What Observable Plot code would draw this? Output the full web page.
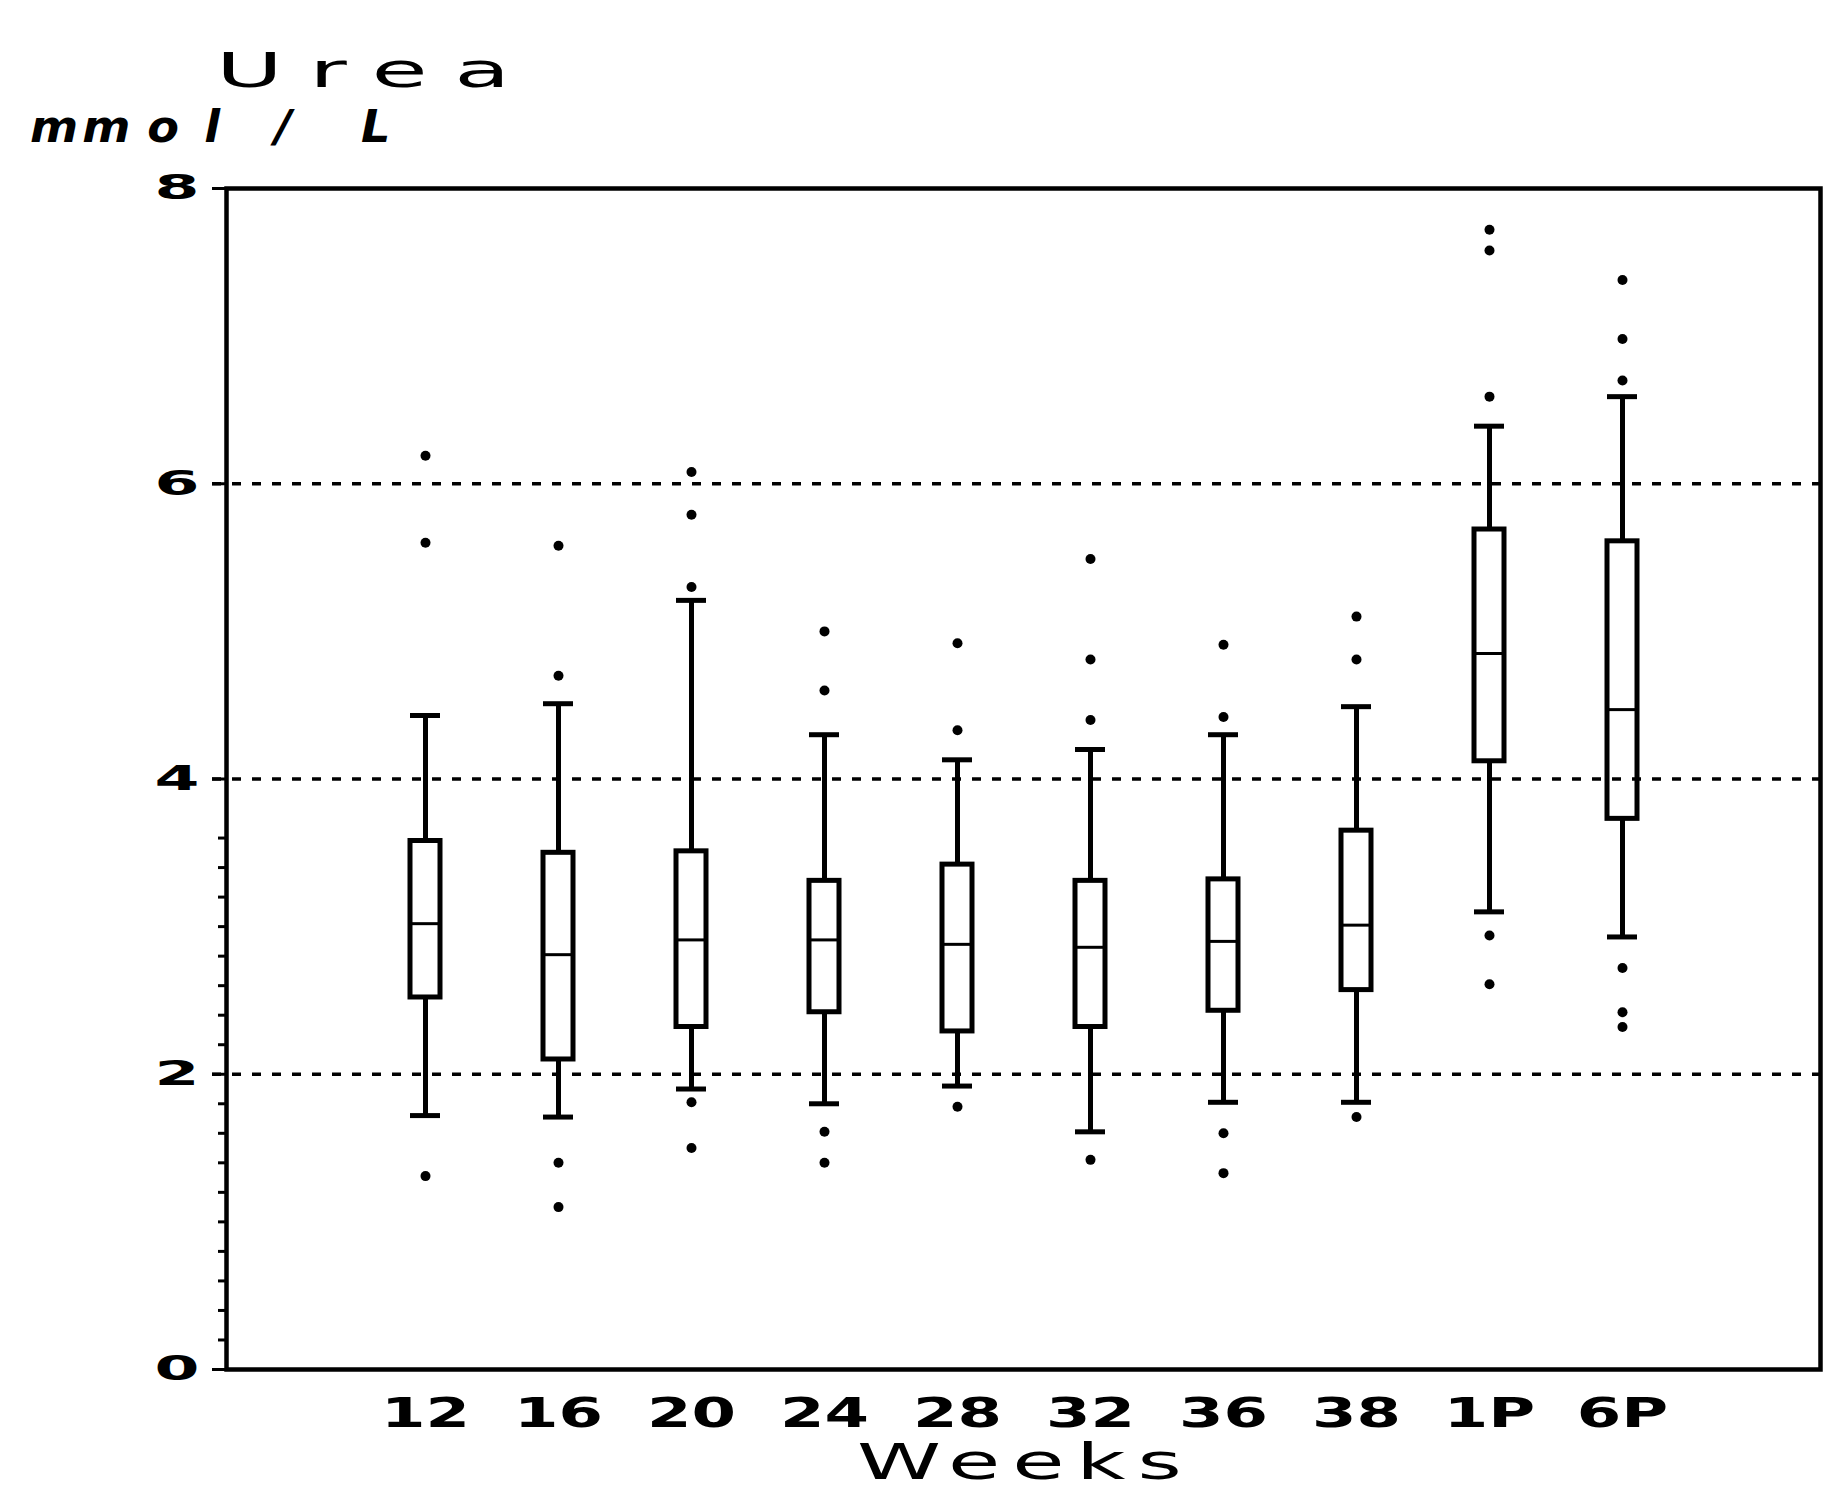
<!DOCTYPE html>
<html>
<head>
<meta charset="utf-8">
<script src="https://cdn.jsdelivr.net/npm/d3@7"></script>
<script src="https://cdn.jsdelivr.net/npm/@observablehq/plot@0.6"></script>
<style>
  html, body { margin: 0; padding: 0; background: #fff; }
  #wrap { position: relative; width: 1825px; height: 1503px; overflow: hidden; background: #fff; }
  #chart { position: absolute; left: 0; top: 0; }
  .lbl { position: absolute; font-family: "DejaVu Sans"; color: #000; white-space: nowrap;
         line-height: 1; transform-origin: 0 0; }
</style>
</head>
<body>
<div id="wrap">
  <div id="chart"></div>
  <div class="lbl" id="title" style="left:216px; top:46px; font-size:48px; letter-spacing:14px; transform:scaleX(1.9);">Urea</div>
  <div class="lbl" id="unit" style="left:30px; top:105px; font-size:44px; font-style:oblique; font-weight:bold; transform:scaleX(1.05);"><span style="letter-spacing:4px">m</span><span style="letter-spacing:16px">m</span><span style="letter-spacing:24px">o</span><span style="letter-spacing:52px">l</span><span style="letter-spacing:66px">/</span><span>L</span></div>
  <div class="lbl" id="xlabel" style="left:857px; top:1437px; font-size:50px; letter-spacing:7px; transform:scaleX(1.7);">Weeks</div>
</div>
<script>
// ---- data ----
const weeks       = ["12", "16", "20", "24", "28", "32", "36", "38", "1P", "6P"];
const whiskerLow  = [1.72, 1.71, 1.90, 1.80, 1.92, 1.61, 1.81, 1.81, 3.10, 2.93];
const quartile1   = [2.52, 2.10, 2.32, 2.42, 2.29, 2.32, 2.43, 2.57, 4.12, 3.73];
const median      = [3.02, 2.81, 2.91, 2.91, 2.88, 2.86, 2.90, 3.01, 4.85, 4.47];
const quartile3   = [3.58, 3.50, 3.51, 3.31, 3.42, 3.31, 3.32, 3.65, 5.69, 5.61];
const whiskerHigh = [4.43, 4.51, 5.21, 4.30, 4.13, 4.20, 4.30, 4.49, 6.39, 6.59];

const outlierWeek  = ["12", "12", "12",
                      "16", "16", "16", "16",
                      "20", "20", "20", "20", "20",
                      "24", "24", "24", "24",
                      "28", "28", "28",
                      "32", "32", "32", "32",
                      "36", "36", "36", "36",
                      "38", "38", "38",
                      "1P", "1P", "1P", "1P", "1P",
                      "6P", "6P", "6P", "6P", "6P", "6P"];
const outlierValue = [6.19, 5.60, 1.31,
                      5.58, 4.70, 1.40, 1.10,
                      6.08, 5.79, 5.30, 1.81, 1.50,
                      5.00, 4.60, 1.61, 1.40,
                      4.92, 4.33, 1.78,
                      5.49, 4.81, 4.40, 1.42,
                      4.91, 4.42, 1.60, 1.33,
                      5.10, 4.81, 1.71,
                      7.72, 7.58, 6.59, 2.94, 2.61,
                      7.38, 6.98, 6.70, 2.72, 2.42, 2.32];

const yTickValues  = [0, 2, 4, 6, 8];
const gridValues   = [2, 4, 6];
const minorTicks   = [0.2, 0.4, 0.6, 0.8, 1.0, 1.2, 1.4, 1.6, 1.8, 2.2, 2.4, 2.6, 2.8, 3.0, 3.2, 3.4, 3.6];

// ---- tables built from the arrays ----
const boxes = weeks.map((w, i) => ({
  week: w, lo: whiskerLow[i], q1: quartile1[i], med: median[i], q3: quartile3[i], hi: whiskerHigh[i]
}));
const outliers = outlierWeek.map((w, i) => ({ week: w, value: outlierValue[i] }));

const chart = Plot.plot({
  width: 1825,
  height: 1503,
  marginTop: 188,
  marginBottom: 134,
  marginLeft: 226,
  marginRight: 5,
  style: { fontFamily: "DejaVu Sans", color: "black", background: "white" },
  x: { type: "band", domain: weeks, paddingInner: 0.7754, paddingOuter: 1.355, align: 0.5, label: null },
  y: { domain: [0, 8], label: null },
  marks: [
    Plot.ruleY(gridValues, { stroke: "black", strokeWidth: 3.5, strokeDasharray: "9,11", insetLeft: -14 }),
    Plot.axisY({ ticks: minorTicks, tickSize: 8, tickFormat: () => "", strokeWidth: 3, label: null }),
    Plot.axisY({ ticks: yTickValues, tickSize: 14, tickPadding: 13, strokeWidth: 3, fontSize: 34, fontWeight: "bold", label: null }),
    Plot.axisX({ tickSize: 0, tickPadding: 29, fontSize: 40, fontWeight: "bold", label: null }),
    Plot.ruleX(boxes, { x: "week", y1: "lo", y2: "q1", stroke: "black", strokeWidth: 5 }),
    Plot.ruleX(boxes, { x: "week", y1: "q3", y2: "hi", stroke: "black", strokeWidth: 5 }),
    Plot.tickY(boxes, { x: "week", y: "lo", stroke: "black", strokeWidth: 5 }),
    Plot.tickY(boxes, { x: "week", y: "hi", stroke: "black", strokeWidth: 5 }),
    Plot.barY(boxes, { x: "week", y1: "q1", y2: "q3", fill: "none", stroke: "black", strokeWidth: 5 }),
    Plot.tickY(boxes, { x: "week", y: "med", stroke: "black", strokeWidth: 3 }),
    Plot.dot(outliers, { x: "week", y: "value", r: 5, fill: "black", stroke: "none" }),
    Plot.frame({ stroke: "black", strokeWidth: 4.5 })
  ]
});

// widen the plotter-style tick labels horizontally (keeps Plot's translate, adds a horizontal scale)
function widen(selector, s) {
  chart.querySelectorAll(selector).forEach(t => {
    const tr = t.getAttribute("transform") || "";
    t.setAttribute("transform", tr + ` scale(${s},1)`);
  });
}
widen('g[aria-label="x-axis tick label"] text', 1.6);
widen('g[aria-label="y-axis tick label"] text', 1.9);

document.getElementById("chart").appendChild(chart);
</script>
</body>
</html>
